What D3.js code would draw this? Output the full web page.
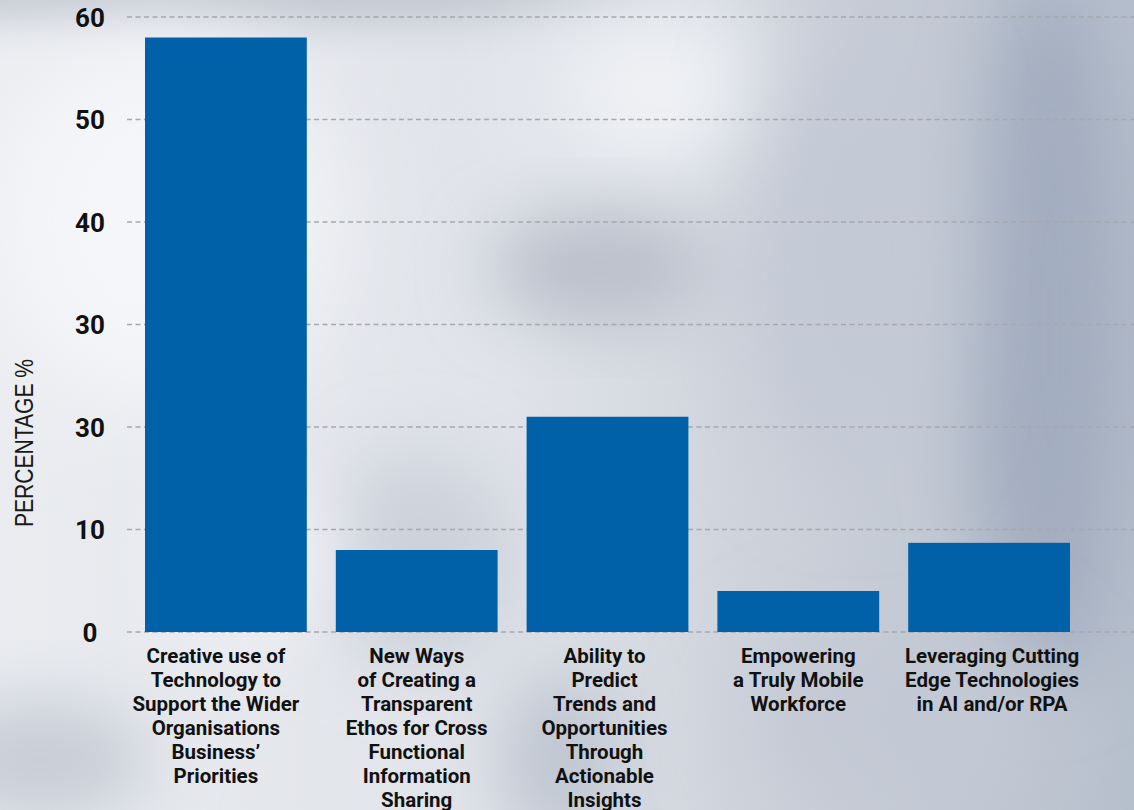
<!DOCTYPE html>
<html>
<head>
<meta charset="utf-8">
<script src="https://cdn.jsdelivr.net/npm/d3@7"></script>
<style>
  html, body { margin: 0; padding: 0; background: #e3e6ec; }
  svg { display: block; }
</style>
</head>
<body>
<svg id="chart" width="1134" height="810"></svg>
<script>
// ---- data ----
const categories = [
  ["Creative use of", "Technology to", "Support the Wider", "Organisations", "Business\u2019", "Priorities"],
  ["New Ways", "of Creating a", "Transparent", "Ethos for Cross", "Functional", "Information", "Sharing"],
  ["Ability to", "Predict", "Trends and", "Opportunities", "Through", "Actionable", "Insights"],
  ["Empowering", "a Truly Mobile", "Workforce"],
  ["Leveraging Cutting", "Edge Technologies", "in AI and/or RPA"]
];
const values = [58, 8, 21, 4, 8.7];
const tickValues = [0, 10, 20, 30, 40, 50, 60];
const tickLabels = ["0", "10", "30", "30", "40", "50", "60"];
const yTitle = "PERCENTAGE %";

// ---- layout ----
const W = 1134, H = 810;
const labelShift = [-10, 0, -3, 0, 3];
const svg = d3.select("#chart");
const defs = svg.append("defs");

// background (blurred photo look)
const bg = defs.append("linearGradient").attr("id", "bgGrad").attr("x1", 0).attr("x2", 1).attr("y1", 0).attr("y2", 0);
bg.append("stop").attr("offset", "0").attr("stop-color", "#eaecf0");
bg.append("stop").attr("offset", "0.45").attr("stop-color", "#e0e3e9");
bg.append("stop").attr("offset", "0.7").attr("stop-color", "#cbd0d9");
bg.append("stop").attr("offset", "1").attr("stop-color", "#b6bfcc");
svg.append("rect").attr("width", W).attr("height", H).attr("fill", "url(#bgGrad)");

const blur = (id, s) => defs.append("filter").attr("id", id)
  .attr("x", "-50%").attr("y", "-50%").attr("width", "200%").attr("height", "200%")
  .append("feGaussianBlur").attr("stdDeviation", s);
blur("b20", 20); blur("b35", 35); blur("b50", 50);

const blobs = svg.append("g");
const blobData = [
  {cx: 250, cy: -10, rx: 420, ry: 35, c: "#c3c8d1", f: "b20"},
  {cx: 160, cy: 220, rx: 170, ry: 190, c: "#f5f6f9", f: "b50"},
  {cx: 660, cy: 90, rx: 120, ry: 90, c: "#f1f3f6", f: "b50"},
  {cx: 600, cy: 268, rx: 110, ry: 55, c: "#b9bfca", f: "b35"},
  {cx: 1050, cy: 330, rx: 80, ry: 360, c: "#a3adbf", f: "b35"},
  {cx: 850, cy: 250, rx: 90, ry: 220, c: "#c2c9d5", f: "b50"},
  {cx: 40, cy: 760, rx: 110, ry: 60, c: "#c6ccd6", f: "b35"},
  {cx: 420, cy: 560, rx: 100, ry: 110, c: "#cdd2db", f: "b35"},
  {cx: 250, cy: 560, rx: 90, ry: 90, c: "#edeff3", f: "b35"},
  {cx: 560, cy: 760, rx: 60, ry: 90, c: "#bfc6d1", f: "b35"},
  {cx: 900, cy: 720, rx: 150, ry: 90, c: "#c3c9d4", f: "b50"}
];
blobs.selectAll("ellipse").data(blobData).join("ellipse")
  .attr("cx", d => d.cx).attr("cy", d => d.cy)
  .attr("rx", d => d.rx).attr("ry", d => d.ry)
  .attr("fill", d => d.c).attr("filter", d => `url(#${d.f})`);

// ---- scales ----
const y = d3.scaleLinear().domain([0, 60]).range([632, 17]);
const x = d3.scaleBand().domain(d3.range(values.length))
  .range([145, 1070]).paddingInner(0.152).paddingOuter(0);

// gridlines
const grid = svg.append("g");
grid.selectAll("line").data(tickValues).join("line")
  .attr("x1", 127).attr("x2", W)
  .attr("y1", d => y(d)).attr("y2", d => y(d))
  .attr("stroke", "#a6a8ad").attr("stroke-width", 1.3)
  .attr("stroke-dasharray", "5,3.5");

// bars
svg.append("g").selectAll("rect").data(values).join("rect")
  .attr("x", (d, i) => x(i)).attr("width", x.bandwidth())
  .attr("y", d => y(d)).attr("height", d => y(0) - y(d))
  .attr("fill", "#0061a9");

// y-axis (labels only)
const yAxis = d3.axisLeft(y).tickValues(tickValues)
  .tickFormat((d, i) => tickLabels[i]).tickSize(0).tickPadding(0);
const gy = svg.append("g").attr("transform", "translate(90,0)").call(yAxis);
gy.select(".domain").remove();
gy.selectAll("text")
  .attr("text-anchor", "middle").attr("x", 0).attr("dy", "0.36em")
  .style("font-family", "Roboto, 'Liberation Sans', sans-serif")
  .style("font-weight", 700).style("font-size", "26px").attr("fill", "#111");

// y title
svg.append("text")
  .attr("transform", "translate(33,443) rotate(-90)")
  .attr("text-anchor", "middle")
  .attr("textLength", 168).attr("lengthAdjust", "spacingAndGlyphs")
  .style("font-family", "'Liberation Sans', Arial, sans-serif")
  .style("font-size", "25px").attr("fill", "#1a1a1a")
  .text(yTitle);

// category labels
const xl = svg.append("g").selectAll("text").data(categories).join("text")
  .attr("text-anchor", "middle")
  .attr("x", (d, i) => x(i) + x.bandwidth() / 2 + labelShift[i])
  .attr("y", 663)
  .style("font-family", "Roboto, 'Liberation Sans', sans-serif")
  .style("font-weight", 700).style("font-size", "20.5px").attr("fill", "#111");
xl.selectAll("tspan").data(d => d).join("tspan")
  .attr("x", function() { return this.parentNode.getAttribute("x"); })
  .attr("dy", (d, i) => i === 0 ? 0 : 24)
  .text(d => d);
</script>
</body>
</html>
